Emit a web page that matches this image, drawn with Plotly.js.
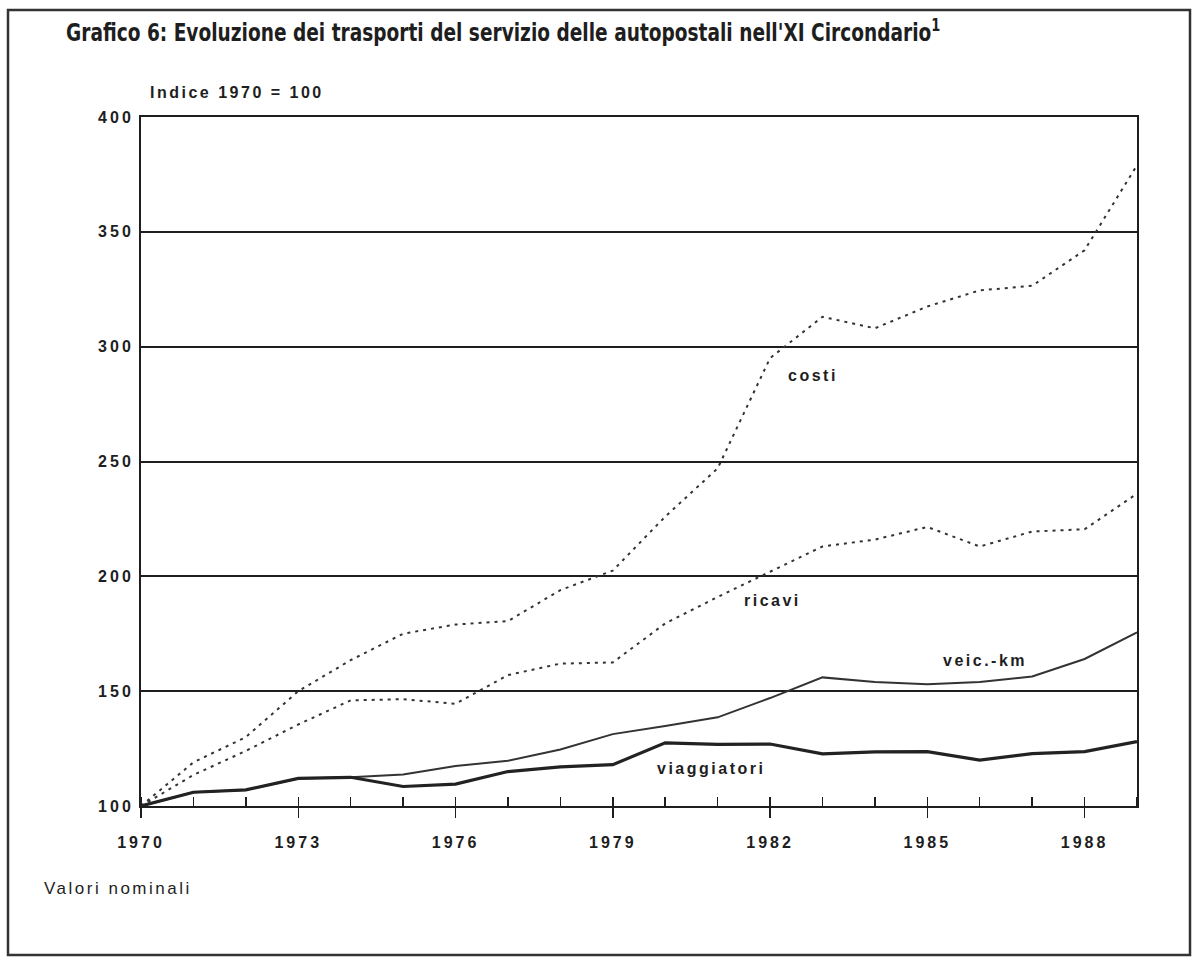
<!DOCTYPE html>
<html>
<head>
<meta charset="utf-8">
<script src="https://cdn.plot.ly/plotly-3.0.1.min.js"></script>
<style>
  html, body { margin: 0; padding: 0; background: #fff; }
  #chart { width: 1192px; height: 959px; }
  .xtick text, .ytick text { letter-spacing: 3px; }
  .annotation-text { letter-spacing: 2.5px; }
  .gtitle { transform: scaleX(0.86); transform-origin: 66px 33px; }
</style>
</head>
<body>
<div id="chart"></div>
<script>
// ---- data ----
const years = [1970,1971,1972,1973,1974,1975,1976,1977,1978,1979,1980,1981,1982,1983,1984,1985,1986,1987,1988,1989];
const costi = [100,119,130,150,163.5,175,179,180.5,194,202.5,226,247,295,313,308,317.5,324.5,326.5,342,379];
const ricavi = [100,113.5,124,135.5,146,146.5,144.5,157,162,162.5,179.5,191,202,213,216,221.5,213,219.5,220.5,236];
const veicKm = [100,106,107,112,112.5,113.7,117.4,119.7,124.6,131.3,134.8,138.6,147,156,154,153,154,156.4,164,175.6];
const viaggiatori = [100,106,107,112,112.5,108.5,109.5,115,117,118,127.5,126.8,127,122.7,123.6,123.7,120,122.8,123.7,128];
const xTickVals = [1970,1973,1976,1979,1982,1985,1988];
const xTickText = ['1970','1973','1976','1979','1982','1985','1988'];
const yTickVals = [100,150,200,250,300,350,400];
const yTickText = ['100','150','200','250','300','350','400'];
const seriesNames = ['costi','ricavi','veic.-km','viaggiatori'];

const ink = '#1e1e1e';
const labelFont = {family: 'Liberation Sans, Arial, sans-serif', size: 16, color: ink, weight: 'bold'};

const traces = [
  {x: years, y: costi, name: seriesNames[0], mode: 'lines', line: {color: '#333', width: 2, dash: '3px,5px'}},
  {x: years, y: ricavi, name: seriesNames[1], mode: 'lines', line: {color: '#333', width: 2, dash: '3px,5px'}},
  {x: years, y: veicKm, name: seriesNames[2], mode: 'lines', line: {color: '#333', width: 2}},
  {x: years, y: viaggiatori, name: seriesNames[3], mode: 'lines', line: {color: '#222', width: 3.2}},
  // invisible trace to activate the secondary x axis (inner halves of major ticks)
  {x: years, y: viaggiatori, xaxis: 'x2', mode: 'lines', line: {width: 0}, hoverinfo: 'skip', showlegend: false}
];

const layout = {
  width: 1192, height: 959,
  margin: {l: 141, r: 55, t: 117, b: 153},
  paper_bgcolor: '#fff', plot_bgcolor: '#fff',
  showlegend: false,
  title: {
    text: "Grafico 6: Evoluzione dei trasporti del servizio delle autopostali nell'XI Circondario<sup>1</sup>",
    font: {family: 'Liberation Sans Narrow, DejaVu Sans Condensed, Arial Narrow, sans-serif', size: 24, color: ink, weight: 'bold'},
    x: 66/1192, xref: 'container', xanchor: 'left',
    y: 1 - 33/959, yref: 'container', yanchor: 'middle'
  },
  xaxis: {
    range: [1970, 1989], showgrid: false, zeroline: false,
    showline: true, mirror: true, linecolor: ink, linewidth: 2,
    tickmode: 'array', tickvals: xTickVals, ticktext: xTickText,
    ticks: 'outside', ticklen: 10, tickwidth: 1.5, tickcolor: ink,
    ticklabelstandoff: 11,
    minor: {ticks: 'inside', dtick: 1, tick0: 1970, ticklen: 9, tickwidth: 1.5, tickcolor: ink, showgrid: false},
    tickfont: labelFont
  },
  xaxis2: {
    range: [1970, 1989], overlaying: 'x', anchor: 'y', side: 'bottom',
    showgrid: false, zeroline: false, showline: false,
    tickmode: 'array', tickvals: xTickVals, ticks: 'inside', ticklen: 9, tickwidth: 1.5, tickcolor: ink,
    showticklabels: false
  },
  yaxis: {
    range: [100, 400], zeroline: false,
    showline: true, mirror: true, linecolor: ink, linewidth: 2,
    tickmode: 'array', tickvals: yTickVals, ticktext: yTickText,
    showgrid: true, gridcolor: ink, gridwidth: 2,
    ticks: '', ticklabelstandoff: 2,
    tickfont: labelFont
  },
  annotations: [
    {text: 'Indice 1970 = 100', xref: 'paper', yref: 'paper', x: 0.007, y: (806-93)/689, xanchor: 'left', yanchor: 'middle', showarrow: false,
     font: {family: 'Liberation Sans, Arial, sans-serif', size: 16, color: ink, weight: 'bold'}},
    {text: 'Valori nominali', xref: 'paper', yref: 'paper', x: (42-141)/996, y: (806-888)/689, xanchor: 'left', yanchor: 'middle', showarrow: false,
     font: {family: 'Liberation Sans, Arial, sans-serif', size: 17, color: ink}},
    {text: seriesNames[0], x: 1982.82, y: 287.5, xref: 'x', yref: 'y', showarrow: false, font: labelFont},
    {text: seriesNames[1], x: 1982.04, y: 189.5, xref: 'x', yref: 'y', showarrow: false, font: labelFont},
    {text: seriesNames[2], x: 1986.1, y: 163.3, xref: 'x', yref: 'y', showarrow: false, font: labelFont},
    {text: seriesNames[3], x: 1980.87, y: 116.2, xref: 'x', yref: 'y', showarrow: false, font: labelFont}
  ],
  shapes: [
    {type: 'rect', xref: 'paper', yref: 'paper', x0: (8-141)/996, x1: (1190-141)/996, y0: (806-955)/689, y1: (806-10)/689,
     line: {color: '#333', width: 2.5}, fillcolor: 'rgba(0,0,0,0)', layer: 'below'}
  ]
};

Plotly.newPlot('chart', traces, layout, {displayModeBar: false, staticPlot: true});
</script>
</body>
</html>
